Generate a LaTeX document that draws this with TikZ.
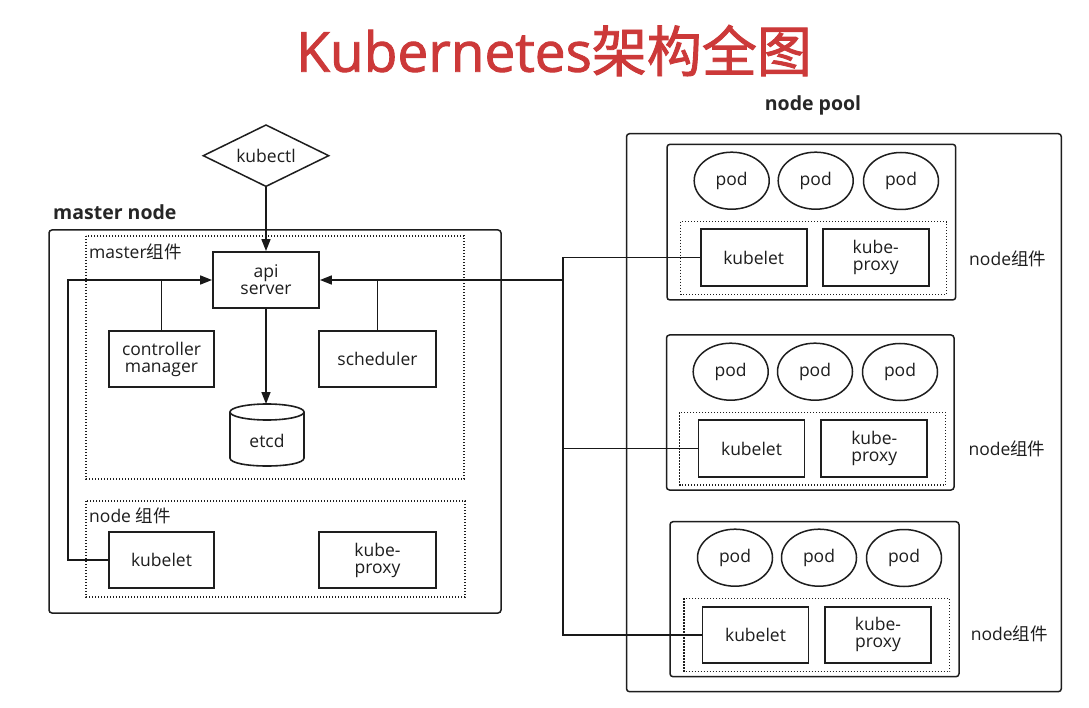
\documentclass[tikz,border=0pt]{standalone}
\usepackage{fontspec}
\setmainfont{Open Sans}
\newfontfamily\cjk{Noto Sans CJK SC}
\newfontfamily\titlefont{Open Sans}[FakeBold=1.6]
\newfontfamily\titlecjk{Noto Sans CJK SC}[FakeBold=1.6]
\usetikzlibrary{shapes.geometric,arrows.meta}
\definecolor{titlered}{RGB}{204,57,57}
\definecolor{ink}{RGB}{30,30,30}
\begin{document}
\begin{tikzpicture}[x=1pt,y=-1pt,
  lbl/.style={font=\fontsize{17.5}{17}\selectfont, text=ink},
  box/.style={draw=ink, line width=1.8pt, inner sep=0pt, align=center, lbl},
  grp/.style={draw=ink, line width=1.5pt, rounded corners=3pt},
  dotbox/.style={draw=ink, line width=1.2pt, dash pattern=on 1.2pt off 1.8pt},
  pod/.style={ellipse, draw=ink, line width=1.5pt, minimum width=75pt, minimum height=57pt, inner sep=0pt, lbl},
  conn/.style={draw=black!90, line width=1.6pt},
  arr/.style={conn, -{Triangle[length=12pt,width=9pt]}},
  head/.style={font=\bfseries\fontsize{19.5}{19.5}\selectfont, text=black!85},
  side/.style={lbl, anchor=west, inner sep=0pt}
]
\fill[white] (0,0) rectangle (1089,708);
\useasboundingbox (0,0) rectangle (1089,708);

% title
\node[font=\fontsize{55}{55}\selectfont, text=titlered, anchor=base, inner sep=0pt] (title) at (554,71.7) {\titlefont Kubernetes{\titlecjk 架构全图}};

% ---------- master node ----------
\node[head, anchor=west, inner sep=0pt] (mnlabel) at (53,212) {master node};
\draw[grp] (49,230) rectangle (501,613);
\draw[dotbox] (86,236) rectangle (464,479);
\draw[dotbox] (86,501) rectangle (465,597);
\node[side] (mcomp) at (89,252) {master{\cjk 组件}};
\node[side] (ncomp) at (89,516) {node {\cjk 组件}};

\node[diamond, aspect=2, draw=ink, line width=1.5pt, minimum width=126pt, minimum height=62pt, inner sep=0pt, lbl] (kubectl) at (266,155.7) {kubectl};

\node[box, minimum width=106pt, minimum height=56pt] (api) at (266,280) {api\\server};
\node[box, minimum width=105pt, minimum height=56pt] (cm) at (161.5,359) {controller\\manager};
\node[box, minimum width=117pt, minimum height=56pt] (sched) at (377.5,359) {scheduler};
\node[box, minimum width=105pt, minimum height=56pt] (mkubelet) at (161.5,560) {kubelet};
\node[box, minimum width=117pt, minimum height=56pt] (mproxy) at (377.5,560) {kube-\\proxy};

% etcd cylinder
\draw[draw=ink, line width=1.6pt] (230,412) -- (230,458) .. controls (230,468.67) and (304,468.67) .. (304,458) -- (304,412);
\draw[draw=ink, line width=1.6pt] (267,412) ellipse [x radius=37, y radius=8];
\node[lbl, inner sep=0pt] (etcd) at (267,441) {etcd};
\coordinate (etcdtop) at (266,404);

% master connectors
\draw[arr] (kubectl.south) -- (api.north);
\draw[arr] (api.south) -- (etcdtop);
\coordinate (lj) at (68,280);
\draw[arr] (mkubelet.west) -| (lj) -- (api.west);
\draw[conn] (cm.north) -- (cm.north |- api.west);
\draw[conn] (sched.north) -- (sched.north |- api.east);

% ---------- node pool ----------
\node[head] (nplabel) at (813,105) {node pool};
\draw[grp] (626.5,133.7) rectangle (1061.3,691.7);

% node 1
\draw[grp] (667,144.3) rectangle (955.7,300);
\draw[dotbox] (680.7,221.7) rectangle (946.7,294.3);
\node[pod] (p11) at (731.7,180.7) {pod};
\node[pod] (p12) at (815.7,180.7) {pod};
\node[pod] (p13) at (901,181) {pod};
\node[box, minimum width=106pt, minimum height=56.7pt] (k1) at (753.7,257.7) {kubelet};
\node[box, minimum width=106pt, minimum height=56.7pt] (x1) at (875.7,257.7) {kube-\\proxy};
\node[side] (c1) at (969,259) {node{\cjk 组件}};

% node 2
\draw[grp] (666.5,335) rectangle (954,490);
\draw[dotbox] (679.7,412.3) rectangle (945.7,485);
\node[pod] (p21) at (730.7,371.7) {pod};
\node[pod] (p22) at (815,371.7) {pod};
\node[pod] (p23) at (900,372) {pod};
\node[box, minimum width=106pt, minimum height=56.4pt] (k2) at (751.5,448.5) {kubelet};
\node[box, minimum width=106pt, minimum height=56.4pt] (x2) at (874.3,448.5) {kube-\\proxy};
\node[side] (c2) at (968.3,449) {node{\cjk 组件}};

% node 3
\draw[grp] (670,521.7) rectangle (959,676.7);
\draw[dotbox] (684,598.3) rectangle (949.7,671.7);
\node[pod] (p31) at (735,557.7) {pod};
\node[pod] (p32) at (819,557.7) {pod};
\node[pod] (p33) at (904,558) {pod};
\node[box, minimum width=106pt, minimum height=56pt] (k3) at (755.5,634.7) {kubelet};
\node[box, minimum width=106pt, minimum height=56pt] (x3) at (878,634.7) {kube-\\proxy};
\node[side] (c3) at (970.7,634.3) {node{\cjk 组件}};

% pool connectors
\coordinate (rj) at (562.7,280);
\draw[arr] (rj) -- (api.east);
\draw[conn] (k1.west) -| (k3.west -| rj) -- (k3.west);
\draw[conn] (k2.west) -- (k2.west -| rj);
\end{tikzpicture}
\end{document}
